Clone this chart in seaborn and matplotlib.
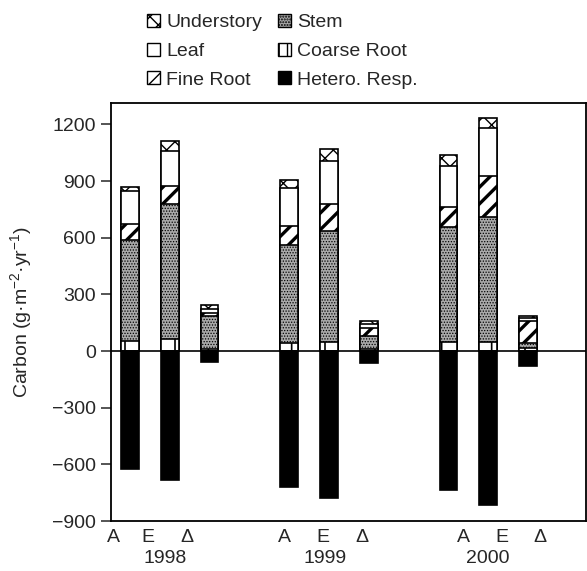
import numpy as np
import pandas as pd
import matplotlib
matplotlib.use("Agg")
import matplotlib.pyplot as plt
import seaborn as sns
from matplotlib.patches import Patch
from matplotlib.transforms import blended_transform_factory

# ---------------- data ----------------
years = ["1998", "1999", "2000"]
treatments = ["A", "E", "Δ"]
coarse_root = [55, 65, 12, 43, 47, 8, 50, 48, 15]
stem = [535, 715, 175, 517, 590, 72, 605, 660, 25]
fine_root = [85, 95, 15, 100, 140, 40, 105, 220, 120]
leaf = [170, 185, 20, 205, 230, 22, 220, 255, 17]
understory = [25, 50, 20, 40, 60, 16, 60, 52, 10]
hetero_resp = [-625, -685, -60, -720, -780, -65, -735, -815, -80]
y_ticks = [-900, -600, -300, 0, 300, 600, 900, 1200]

# ---------------- layout ----------------
bar_pos = [0, 1, 2, 4, 5, 6, 8, 9, 10]
tick_pos = [-0.43, 0.45, 1.43, 3.89, 4.85, 5.83, 8.37, 9.35, 10.30]
year_pos = [0.88, 4.90, 9.0]
FS = 14

sns.set_style("ticks")
plt.rcParams["font.family"] = ["Liberation Sans", "DejaVu Sans"]
plt.rcParams["mathtext.default"] = "regular"
plt.rcParams["font.size"] = FS
plt.rcParams["hatch.color"] = "black"

df = pd.DataFrame({
    "pos": bar_pos,
    "coarse": coarse_root,
    "stem": stem,
    "fine": fine_root,
    "leaf": leaf,
    "under": understory,
    "hetero": hetero_resp,
})
df["t1"] = df["coarse"]
df["t2"] = df["t1"] + df["stem"]
df["t3"] = df["t2"] + df["fine"]
df["t4"] = df["t3"] + df["leaf"]
df["t5"] = df["t4"] + df["under"]

W, H = 587, 571
fig = plt.figure(figsize=(W / 100, H / 100), dpi=100)
ax = fig.add_axes([111 / W, 1 - 521 / H, (586 - 111) / W, (521 - 103) / H])

STEM_FC = "#a9a9a9"
styles = [
    ("t5", "white", "xx", 1.0),
    ("t4", "white", "", 1.0),
    ("t3", "white", "//", 2.4),
    ("t2", STEM_FC, "......", 0.6),
    ("t1", "white", "|", 1.2),
    ("hetero", "black", "", 1.0),
]
for col, fc, hatch, hlw in styles:
    n0 = len(ax.patches)
    sns.barplot(data=df, x="pos", y=col, native_scale=True, width=0.44,
                color=fc, edgecolor="black", linewidth=1.2, hatch=hatch,
                saturation=1, errorbar=None, ax=ax)
    for p in ax.patches[n0:]:
        if hasattr(p, "set_hatch_linewidth"):
            p.set_hatch_linewidth(hlw)

ax.axhline(0, color="black", lw=1.2, zorder=5)
ax.set_xlim(-0.48, 11.46)
ax.set_ylim(-900, 1313)
ax.set_yticks(y_ticks)
ax.set_xticks(tick_pos)
ax.set_xticklabels(treatments * len(years), fontsize=FS)
ax.tick_params(axis="x", length=0, pad=6)
ax.tick_params(axis="y", length=7, width=1.1, pad=4, labelsize=FS, direction="out")
for s in ax.spines.values():
    s.set_linewidth(1.3)
    s.set_color("black")
ax.set_xlabel("")
ax.set_ylabel("Carbon (g·m$^{-2}$·yr$^{-1}$)", fontsize=FS)
ax.yaxis.set_label_coords(-0.162, 0.5)

trans = blended_transform_factory(ax.transData, ax.transAxes)
for xp, yr in zip(year_pos, years):
    ax.text(xp, -0.09, yr, transform=trans, ha="center", va="center", fontsize=FS)

handles = [
    Patch(facecolor="white", edgecolor="black", hatch="xx", label="Understory"),
    Patch(facecolor="white", edgecolor="black", label="Leaf"),
    Patch(facecolor="white", edgecolor="black", hatch="//", label="Fine Root"),
    Patch(facecolor=STEM_FC, edgecolor="black", hatch="......", label="Stem"),
    Patch(facecolor="white", edgecolor="black", hatch="||", label="Coarse Root"),
    Patch(facecolor="black", edgecolor="black", label="Hetero. Resp."),
]
fig.legend(handles=handles, ncol=2, loc="upper left",
           bbox_to_anchor=(147 / W, 1 - 14 / H), frameon=False, fontsize=FS,
           handlelength=0.65, handleheight=0.65, handletextpad=0.35,
           columnspacing=0.8, labelspacing=0.58, borderpad=0.0,
           borderaxespad=0.0)

fig.savefig("out.png", dpi=100)
